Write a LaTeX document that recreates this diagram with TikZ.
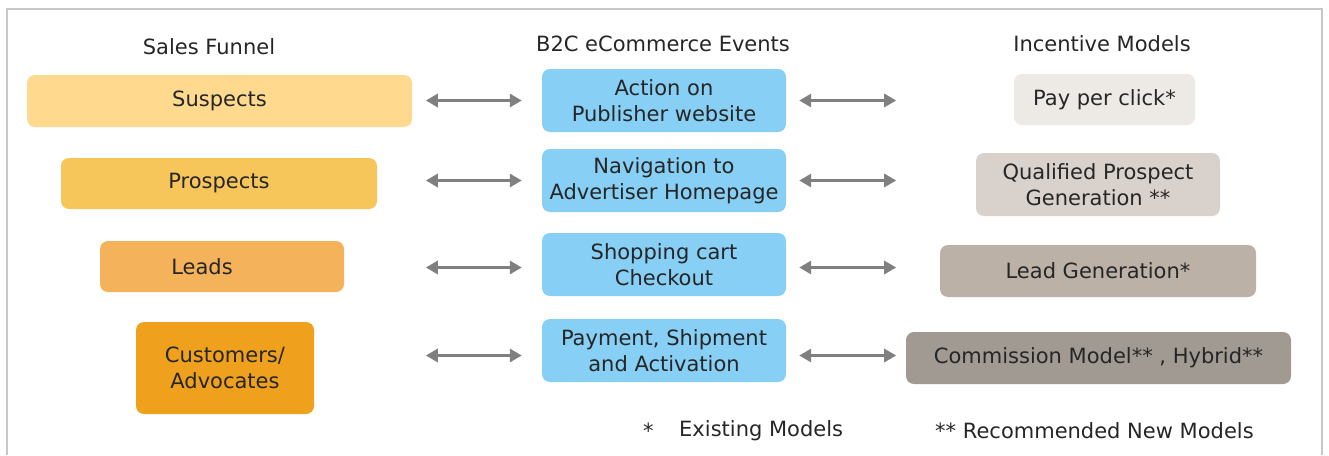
\documentclass[tikz,border=0pt]{standalone}
\usepackage{fontspec}
\setmainfont{DejaVu Sans}
\usetikzlibrary{arrows.meta}

\definecolor{txt}{HTML}{262626}
\definecolor{arr}{HTML}{808080}
\definecolor{frame}{HTML}{C8C8C8}
\definecolor{funA}{HTML}{FED98E}
\definecolor{funB}{HTML}{F6C65B}
\definecolor{funC}{HTML}{F4B25A}
\definecolor{funD}{HTML}{EFA11E}
\definecolor{evt}{HTML}{87CFF4}
\definecolor{incA}{HTML}{EDE9E4}
\definecolor{incB}{HTML}{D9D2CC}
\definecolor{incC}{HTML}{BBB1A7}
\definecolor{incD}{HTML}{A09A93}

\begin{document}
\begin{tikzpicture}[x=1pt,y=-1pt,
    box/.style={rounded corners=8pt, align=center, text=txt, inner sep=0pt,
      font=\fontsize{21}{25.5}\selectfont},
    head/.style={text=txt, font=\fontsize{21}{25.5}\selectfont},
    dbl/.style={{Triangle[length=12pt,width=13pt]}-{Triangle[length=12pt,width=13pt]},
      line width=3pt, draw=arr}]
    \useasboundingbox (0,0) rectangle (1329,455);

    % frame, open at the bottom
    \draw[frame, line width=2pt] (7,455) -- (7,9) -- (1322,9) -- (1322,455);

    % column heads
    \node[head] (hfun) at (209,47) {Sales Funnel};
    \node[head] (hevt) at (663,44) {B2C eCommerce Events};
    \node[head] (hinc) at (1102,44) {Incentive Models};

    % sales funnel
    \node[box, fill=funA, minimum width=385pt, minimum height=52pt] (fun1) at (219.5,101) {Suspects};
    \node[box, fill=funB, minimum width=316pt, minimum height=51pt] (fun2) at (219,183.5) {Prospects};
    \node[box, fill=funC, minimum width=244pt, minimum height=51pt,
      label={[head, xshift=-20pt]center:Leads}] (fun3) at (222,266.5) {};
    \node[box, fill=funD, minimum width=178pt, minimum height=92pt] (fun4) at (225,368) {Customers/\\Advocates};

    % events
    \node[box, fill=evt, minimum width=244pt, minimum height=63pt] (ev1) at (664,100.5) {Action on\\Publisher website};
    \node[box, fill=evt, minimum width=244pt, minimum height=63pt] (ev2) at (664,180.5) {Navigation to\\Advertiser Homepage};
    \node[box, fill=evt, minimum width=244pt, minimum height=63pt] (ev3) at (664,264.5) {Shopping cart\\Checkout};
    \node[box, fill=evt, minimum width=244pt, minimum height=63pt] (ev4) at (664,350.5) {Payment, Shipment\\and Activation};

    % incentive models
    \node[box, fill=incA, minimum width=181pt, minimum height=51pt] (inc1) at (1104.5,99.5) {Pay per click*};
    \node[box, fill=incB, minimum width=244pt, minimum height=63pt] (inc2) at (1098,184.5) {Qualified Prospect\\Generation **};
    \node[box, fill=incC, minimum width=316pt, minimum height=52pt] (inc3) at (1098,271) {Lead Generation*};
    \node[box, fill=incD, minimum width=385pt, minimum height=52pt] (inc4) at (1098.5,358) {Commission Model** , Hybrid**};

    % two-way arrows
    \draw[dbl] ([xshift=-116pt]ev1.west) -- ([xshift=-20pt]ev1.west);
    \draw[dbl] ([xshift=13pt]ev1.east) -- ([xshift=110pt]ev1.east);
    \draw[dbl] ([xshift=-116pt]ev2.west) -- ([xshift=-20pt]ev2.west);
    \draw[dbl] ([xshift=13pt]ev2.east) -- ([xshift=110pt]ev2.east);
    \draw[dbl] ([xshift=-116pt,yshift=-3pt]ev3.west) -- ([xshift=-20pt,yshift=-3pt]ev3.west);
    \draw[dbl] ([xshift=13pt,yshift=-3pt]ev3.east) -- ([xshift=110pt,yshift=-3pt]ev3.east);
    \draw[dbl] ([xshift=-116pt,yshift=-5pt]ev4.west) -- ([xshift=-20pt,yshift=-5pt]ev4.west);
    \draw[dbl] ([xshift=13pt,yshift=-5pt]ev4.east) -- ([xshift=110pt,yshift=-5pt]ev4.east);

    % notes
    \node[head, anchor=west, inner sep=0pt] (star1) at (643,431) {*};
    \node[head, anchor=west, inner sep=0pt] (note1) at (679,431) {Existing Models};
    \node[head, anchor=west, inner sep=0pt] (note2) at (935,431) {** Recommended New Models};
\end{tikzpicture}
\end{document}
